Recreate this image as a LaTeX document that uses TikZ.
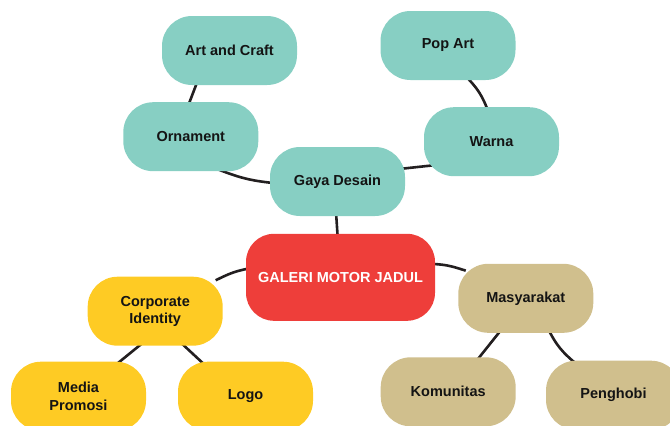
\documentclass[tikz,border=0pt]{standalone}
\usepackage{fontspec}
\setmainfont{Liberation Sans}
\usetikzlibrary{backgrounds}
\definecolor{mteal}{HTML}{87CFC3}
\definecolor{mred}{HTML}{EE3E3A}
\definecolor{myellow}{HTML}{FECB24}
\definecolor{mtan}{HTML}{D0BF8D}
\definecolor{mline}{HTML}{231F20}

\begin{document}
\begin{tikzpicture}[
  x=1pt, y=-1pt,
  font=\fontsize{14.5}{17.5}\selectfont\bfseries,
  topic/.style={rectangle, rounded corners=30pt, minimum width=135pt, minimum height=69pt, inner sep=2pt, align=center, text=black!92},
  design/.style={topic, fill=mteal},
  brand/.style={topic, fill=myellow},
  people/.style={topic, fill=mtan},
  core/.style={rectangle, rounded corners=28pt, fill=mred, text=white, minimum width=189pt, minimum height=87pt},
  link/.style={draw=mline, line width=2.6pt, shorten <=-8pt, shorten >=-8pt},
]
\useasboundingbox (0,0) rectangle (670,426);

% ---- nodes: centre, design branch above, brand left, people right
\node[core]   (galeri) at (340.5,277.3) {GALERI MOTOR JADUL};
\node[design] (gaya)   at (337.5,181.5) {Gaya Desain};
\node[design] (orn)    at (190.8,136.7) {Ornament};
\node[design] (art)    at (229.5,50.5)  {Art and Craft};
\node[design] (warna)  at (491.5,141.7) {Warna};
\node[design] (pop)    at (448,45.5)    {Pop Art};
\node[brand]  (corp)   at (155.2,311.2) {Corporate\\Identity};
\node[brand]  (media)  at (78.5,396.2)  {Media\\Promosi};
\node[brand]  (logo)   at (245.5,396.2) {Logo};
\node[people] (mas)    at (525.8,298.3) {Masyarakat};
\node[people] (kom)    at (448.2,391.8) {Komunitas};
\node[people] (pen)    at (613.5,395.2) {Penghobi};

% ---- links, behind the nodes
\begin{scope}[on background layer]
  \draw[link] (art.226) -- (orn.92);
  \draw[link] (orn.313) to[bend right=8] (gaya.181);
  \draw[link] (gaya.11) -- (warna.200);
  \draw[link] (pop.302) to[bend left=12] (warna.98);
  \draw[link] (gaya.268) -- (galeri.94);
  \draw[link] (galeri.175) to[bend right=8] (corp.27);
  \draw[link] (galeri.8) to[bend left=8] (mas.156);
  \draw[link] (corp.245) -- (media.40);
  \draw[link] (corp.310) -- (logo.142);
  \draw[link] (mas.232) -- (kom.48);
  \draw[link] (mas.305) to[bend right=12] (pen.140);
\end{scope}

\end{tikzpicture}
\end{document}
